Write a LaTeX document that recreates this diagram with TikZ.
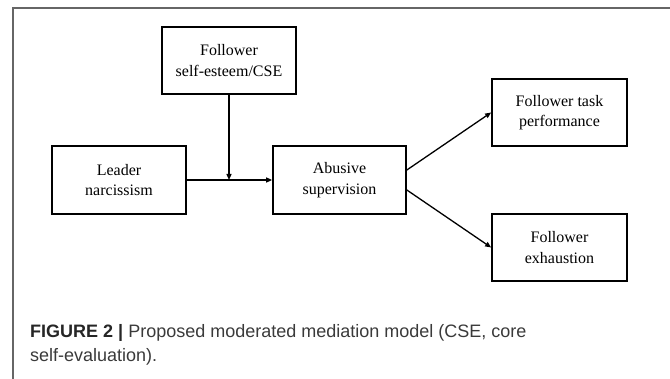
\documentclass[tikz,border=0pt]{standalone}
\usepackage{fontspec}
\setmainfont{Liberation Serif}
\newfontfamily\capfont{Liberation Sans}
\usetikzlibrary{arrows.meta,calc}
\definecolor{framegray}{HTML}{666666}
\definecolor{captext}{HTML}{3A3A3A}
\begin{document}
\begin{tikzpicture}[x=1pt,y=-1pt,
  box/.style={draw=black, line width=1.7pt, inner sep=0pt, align=center,
    font=\fontsize{16}{20.5}\selectfont},
  conn/.style={line width=1.3pt, -{Triangle[length=6pt,width=5pt]}},
  captxt/.style={anchor=base west, inner sep=0pt, text=captext,
    font=\capfont\fontsize{18}{24}\selectfont}]
\useasboundingbox (0,0) rectangle (670,379);
% frame
\draw[framegray, line width=1.2pt] (13,379) -- (13,8) -- (670,8);
% boxes
\node[box, minimum width=134pt, minimum height=67pt] (cse) at (229,60.5) {Follower\\self-esteem/CSE};
\node[box, minimum width=134pt, minimum height=68pt] (lead) at (119,180) {Leader\\narcissism};
\node[box, minimum width=133pt, minimum height=68pt] (ab) at (339.5,180) {Abusive\\supervision};
\node[box, minimum width=135pt, minimum height=67pt] (task) at (559.5,112.5) {Follower task\\performance};
\node[box, minimum width=135pt, minimum height=67pt] (exh) at (559.5,247.5) {Follower\\exhaustion};
% connectors
\coordinate (mod) at (229,180);
\draw[conn] (lead.east) -- (ab.west);
\draw[conn] (cse.south) -- (mod);
\draw[conn] ($(ab.east)+(0,-10)$) -- (task.west);
\draw[conn] ($(ab.east)+(0,10)$) -- (exh.west);
% caption
\node[captxt] (cap1) at (30,337.5) {\textbf{\color{black!85}FIGURE 2 |} Proposed moderated mediation model (CSE, core};
\node[captxt] (cap2) at (30,361.5) {self-evaluation).};
\end{tikzpicture}
\end{document}
